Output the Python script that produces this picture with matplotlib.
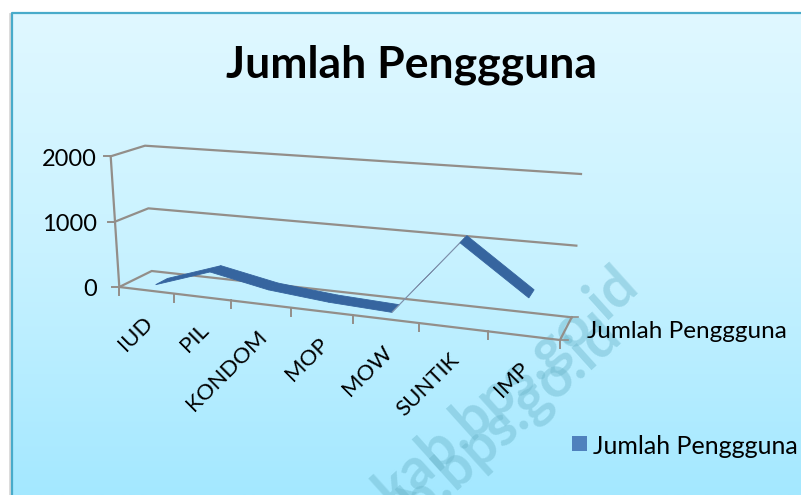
import matplotlib
matplotlib.use('Agg')
import matplotlib.pyplot as plt
import numpy as np
from matplotlib.patches import Polygon, Rectangle
from matplotlib.colors import LinearSegmentedColormap

plt.rcParams['font.family'] = ['Lato', 'DejaVu Sans']

categories = ['IUD', 'PIL', 'KONDOM', 'MOP', 'MOW', 'SUNTIK', 'IMP']
pengguna = [10, 300, 130, 50, 10, 1100, 430]
y_ticks = [0, 1000, 2000]
series_name = 'Jumlah Penggguna'

VMAX = 2000.0
# corners of the 3d box in pixels: floor and the "up" vector for VMAX
floor_fl, floor_fr = np.array([119.3, 287.0]), np.array([560.0, 340.0])
floor_bl, floor_br = np.array([151.7, 271.0]), np.array([571.7, 317.3])
up_fl, up_fr = np.array([-8.6, -130.7]), np.array([7.0, -147.0])
up_bl, up_br = np.array([-6.7, -125.3]), np.array([9.3, -143.3])


def project(u, d, v):
    # u = category position 0..7, d = depth 0..1, v = value
    s = u / len(categories)
    t = 0.85 * s / (1 - 0.15 * s)
    front = floor_fl + (floor_fr - floor_fl) * t + (up_fl + (up_fr - up_fl) * t) * v / VMAX
    back = floor_bl + (floor_br - floor_bl) * t + (up_bl + (up_br - up_bl) * t) * v / VMAX
    return front + (back - front) * d


fig = plt.figure(figsize=(8.01, 4.95), dpi=100, facecolor='white')
ax = fig.add_axes([0, 0, 1, 1])
ax.set_xlim(0, 801)
ax.set_ylim(495, 0)
ax.axis('off')

# background panel
cmap = LinearSegmentedColormap.from_list('bg', ['#e0f8ff', '#c8f2ff', '#a4e8ff'])
ax.imshow(np.linspace(0, 1, 256).reshape(-1, 1), cmap=cmap, aspect='auto',
          extent=(12, 801, 495, 12), zorder=0)
ax.set_xlim(0, 801)
ax.set_ylim(495, 0)
ax.plot([9.5, 9.5], [14, 495], color='#d8d8d8', lw=2, zorder=1)
ax.plot([11.5, 11.5, 801], [495, 12.5, 12.5], color='#48abca', lw=1.6, zorder=1)

# watermark, two overlapping copies
for end in [(629, 276), (612, 326)]:
    ax.text(end[0], end[1], 'kab.bps.go.id', rotation=42, fontsize=41, fontweight='bold', color='#6db7cc',
            ha='right', va='center', rotation_mode='anchor', alpha=0.45, zorder=1, clip_on=True)

# walls and gridlines
grid = '#938e89'
n = len(categories)
for v in y_ticks:
    pts = [project(0, 0, v), project(0, 1, v), project(n, 1, v)]
    ax.plot(*zip(*pts), color=grid, lw=1.6, zorder=2)
    stub = project(0, 0, v)
    ax.plot([stub[0] - 7, stub[0]], [stub[1], stub[1]], color=grid, lw=1.4, zorder=2)
    ax.text(97, stub[1] + 3, str(v), ha='right', va='center', fontsize=17, color='black', zorder=5)
ax.plot(*zip(project(0, 0, 0), project(0, 0, VMAX)), color=grid, lw=1.6, zorder=2)
ax.plot(*zip(project(0, 0, 0), project(n, 0, 0), project(n, 1, 0)), color=grid, lw=1.6, zorder=2)
br = project(n, 1, 0)
ax.plot([br[0], br[0] + 6], [br[1], br[1]], color=grid, lw=1.2, zorder=2)
fr = project(n, 0, 0)
ax.plot([fr[0], fr[0] + 8], [fr[1], fr[1]], color=grid, lw=1.2, zorder=2)
for u in range(n + 1):
    p = project(u, 0, 0)
    ax.plot([p[0], p[0]], [p[1], p[1] + 8], color=grid, lw=1.4, zorder=2)

# ribbon
d0, d1 = 0.3, 0.68
for i in range(n - 1):
    a, b = i + 0.5, i + 1.5
    quad = [project(a, d0, pengguna[i]), project(b, d0, pengguna[i + 1]),
            project(b, d1, pengguna[i + 1]), project(a, d1, pengguna[i])]
    rising_fast = pengguna[i + 1] - pengguna[i] > 500
    face = '#7f92ad' if rising_fast else '#36659f'
    ax.add_patch(Polygon(quad, closed=True, facecolor=face, edgecolor=face, lw=0.6, zorder=3))

# category labels
for i, name in enumerate(categories):
    p = project(i + 0.5, 0, 0)
    ax.text(p[0] - 4, p[1] + 23, name, rotation=45, ha='right', va='top',
            rotation_mode='anchor', fontsize=16, color='black', zorder=5)

ax.text(587, 331, series_name, ha='left', va='center', fontsize=17.5, color='black', zorder=5)
ax.text(411, 65, series_name, ha='center', va='center', fontsize=32, fontweight='bold', color='black', zorder=5)

# legend
ax.add_patch(Rectangle((572, 436), 15, 15, facecolor='#4f81bd', edgecolor='none', zorder=5))
ax.text(593, 446, series_name, ha='left', va='center', fontsize=18, color='black', zorder=5)

fig.savefig('out.png', dpi=100)
